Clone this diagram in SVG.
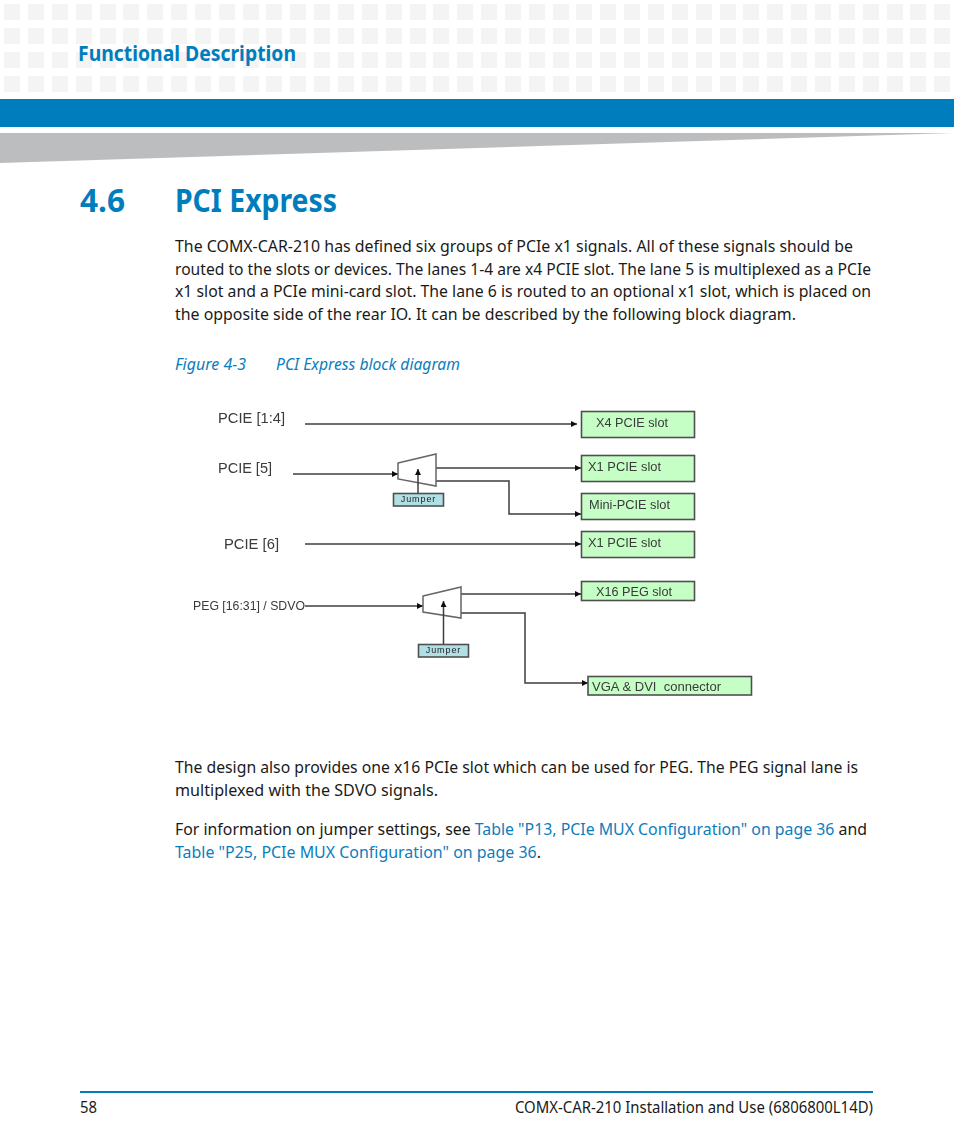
<svg xmlns="http://www.w3.org/2000/svg" width="954" height="1145" viewBox="0 0 954 1145">
<style>
.b{font-family:"Noto Sans","Open Sans","Liberation Sans",sans-serif;font-size:17px;fill:#1a1a1a}
.l{fill:#0a7dbd}
.c{font-family:"Noto Sans","Open Sans","Liberation Sans",sans-serif;font-size:17px;font-style:italic;fill:#0a7dbd}
.h{font-family:"Noto Sans","Open Sans","Liberation Sans",sans-serif;font-weight:700;fill:#007dbd}
.d{font-family:"Liberation Sans",Arial,sans-serif;fill:#3a3a3a}
.s{font-size:13px}
.t{font-size:14.5px}
.j{font-size:9px;letter-spacing:.9px;text-anchor:middle;fill:#222}
.box{fill:#c6ffc6;stroke:#505050;stroke-width:1.6}
.jb{fill:#b0e0e6;stroke:#505050;stroke-width:1.6}
.mux{fill:#fff;stroke:#666;stroke-width:1.5}
.w{fill:none;stroke:#3c3c3c;stroke-width:1.5}
.f{font-size:15.500px}
</style>
<defs>
<filter id="soft" x="-5%" y="-5%" width="110%" height="110%"><feGaussianBlur stdDeviation="0.4"/></filter>
<marker id="a" markerUnits="userSpaceOnUse" markerWidth="7" markerHeight="7" refX="6" refY="3" orient="auto"><path d="M0 0L6 3L0 6Z" fill="#111"/></marker>
<g id="sq"><rect y="4" width="16" height="16"/><rect y="28" width="16" height="16"/><rect y="52" width="16" height="16"/><rect y="76" width="16" height="16"/></g>
</defs>
<rect width="954" height="1145" fill="#fff"/>
<g id="header-pattern" fill="#f4f4f4">
<use href="#sq" x="4"/><use href="#sq" x="28"/><use href="#sq" x="52"/><use href="#sq" x="76"/><use href="#sq" x="100"/><use href="#sq" x="123"/><use href="#sq" x="147"/><use href="#sq" x="171"/><use href="#sq" x="195"/><use href="#sq" x="219"/><use href="#sq" x="243"/><use href="#sq" x="266"/><use href="#sq" x="290"/><use href="#sq" x="314"/><use href="#sq" x="338"/><use href="#sq" x="362"/><use href="#sq" x="386"/><use href="#sq" x="410"/><use href="#sq" x="433"/><use href="#sq" x="457"/><use href="#sq" x="481"/><use href="#sq" x="505"/><use href="#sq" x="529"/><use href="#sq" x="553"/><use href="#sq" x="576"/><use href="#sq" x="600"/><use href="#sq" x="624"/><use href="#sq" x="648"/><use href="#sq" x="672"/><use href="#sq" x="696"/><use href="#sq" x="720"/><use href="#sq" x="743"/><use href="#sq" x="767"/><use href="#sq" x="791"/><use href="#sq" x="815"/><use href="#sq" x="839"/><use href="#sq" x="863"/><use href="#sq" x="887"/><use href="#sq" x="910"/><use href="#sq" x="934"/>
</g>
<text class="h" x="78" y="61" font-size="21" textLength="218" lengthAdjust="spacingAndGlyphs">Functional Description</text>
<rect x="0" y="99" width="954" height="28" fill="#007dbd"/>
<polygon points="0,133 954,133 0,163" fill="#bcbdbf"/>
<text class="h" x="80" y="212" font-size="32" textLength="45" lengthAdjust="spacingAndGlyphs">4.6</text>
<text class="h" x="175" y="212" font-size="32" textLength="162" lengthAdjust="spacingAndGlyphs">PCI Express</text>
<g id="body">
<text class="b" x="175" y="252" textLength="678" lengthAdjust="spacingAndGlyphs">The COMX-CAR-210 has defined six groups of PCIe x1 signals. All of these signals should be</text>
<text class="b" x="175" y="275" textLength="696" lengthAdjust="spacingAndGlyphs">routed to the slots or devices. The lanes 1-4 are x4 PCIE slot. The lane 5 is multiplexed as a PCIe</text>
<text class="b" x="175" y="297" textLength="696" lengthAdjust="spacingAndGlyphs">x1 slot and a PCIe mini-card slot. The lane 6 is routed to an optional x1 slot, which is placed on</text>
<text class="b" x="175" y="320" textLength="621" lengthAdjust="spacingAndGlyphs">the opposite side of the rear IO. It can be described by the following block diagram.</text>
<text class="c" x="175" y="370" textLength="71" lengthAdjust="spacingAndGlyphs">Figure 4-3</text>
<text class="c" x="276" y="370" textLength="184" lengthAdjust="spacingAndGlyphs">PCI Express block diagram</text>
<text class="b" x="175" y="773" textLength="683" lengthAdjust="spacingAndGlyphs">The design also provides one x16 PCIe slot which can be used for PEG. The PEG signal lane is</text>
<text class="b" x="175" y="796" textLength="263" lengthAdjust="spacingAndGlyphs">multiplexed with the SDVO signals.</text>
<text class="b" x="175" y="835" textLength="692" lengthAdjust="spacingAndGlyphs">For information on jumper settings, see <tspan class="l">Table "P13, PCIe MUX Configuration" on page 36</tspan> and</text>
<text class="b" x="175" y="858" textLength="366" lengthAdjust="spacingAndGlyphs"><tspan class="l">Table "P25, PCIe MUX Configuration" on page 36</tspan>.</text>
</g>
<g id="diagram" filter="url(#soft)">
<g id="connectors">
<path class="w" d="M305 424H577" marker-end="url(#a)"/>
<path class="w" d="M293 474H398" marker-end="url(#a)"/>
<path class="w" d="M436 468H581" marker-end="url(#a)"/>
<path class="w" d="M436 481H509V514H581" marker-end="url(#a)"/>
<path class="w" d="M305 544H581" marker-end="url(#a)"/>
<path class="w" d="M305 606H423" marker-end="url(#a)"/>
<path class="w" d="M461 594H581" marker-end="url(#a)"/>
<path class="w" d="M461 613H525V683H588" marker-end="url(#a)"/>
</g>
<g id="mux1"><polygon class="mux" points="398,463 436,454 436,486 398,479"/></g>
<g id="mux2"><polygon class="mux" points="423,596 461,587 461,618 423,612"/></g>
<g id="connectors-jumper">
<path class="w" d="M418 493V469" marker-end="url(#a)"/>
<path class="w" d="M443.500 644V601" marker-end="url(#a)"/>
</g>
<g id="label-pcie14"><text class="d t" x="218" y="423" textLength="67" lengthAdjust="spacingAndGlyphs">PCIE [1:4]</text></g>
<g id="label-pcie5"><text class="d t" x="218" y="473" textLength="54" lengthAdjust="spacingAndGlyphs">PCIE [5]</text></g>
<g id="label-pcie6"><text class="d t" x="224" y="549" textLength="55" lengthAdjust="spacingAndGlyphs">PCIE [6]</text></g>
<g id="label-peg"><text class="d s" x="193" y="610" textLength="112" lengthAdjust="spacingAndGlyphs">PEG [16:31] / SDVO</text></g>
<g id="x4"><rect class="box" x="581.500" y="411.500" width="113" height="26"/><text class="d s" x="596" y="427" textLength="72" lengthAdjust="spacingAndGlyphs">X4 PCIE slot</text></g>
<g id="x1a"><rect class="box" x="581.500" y="455.500" width="113" height="26"/><text class="d s" x="588" y="471" textLength="73" lengthAdjust="spacingAndGlyphs">X1 PCIE slot</text></g>
<g id="mini"><rect class="box" x="581.500" y="493.500" width="113" height="26"/><text class="d s" x="589" y="509" textLength="81" lengthAdjust="spacingAndGlyphs">Mini-PCIE slot</text></g>
<g id="x1b"><rect class="box" x="581.500" y="531.500" width="113" height="26"/><text class="d s" x="588" y="547" textLength="73" lengthAdjust="spacingAndGlyphs">X1 PCIE slot</text></g>
<g id="x16"><rect class="box" x="581.500" y="581.500" width="113" height="19"/><text class="d s" x="596" y="596" textLength="76" lengthAdjust="spacingAndGlyphs">X16 PEG slot</text></g>
<g id="vga"><rect class="box" x="588" y="676.500" width="163.500" height="18.500"/><text class="d s" x="592" y="691" textLength="129" lengthAdjust="spacing" xml:space="preserve">VGA &amp; DVI  connector</text></g>
<g id="jumper1"><rect class="jb" x="393.500" y="493.500" width="50" height="12.500"/><text class="d j" x="418.500" y="501.500">Jumper</text></g>
<g id="jumper2"><rect class="jb" x="418.500" y="644.500" width="50" height="12.500"/><text class="d j" x="443.500" y="652.500">Jumper</text></g>
</g>
<g id="footer">
<rect x="80" y="1091" width="793" height="2" fill="#007dbd"/>
<text class="b f" x="80" y="1113" textLength="17" lengthAdjust="spacingAndGlyphs">58</text>
<text class="b f" x="515" y="1113" textLength="358" lengthAdjust="spacingAndGlyphs">COMX-CAR-210 Installation and Use (6806800L14D)</text>
</g>
</svg>
